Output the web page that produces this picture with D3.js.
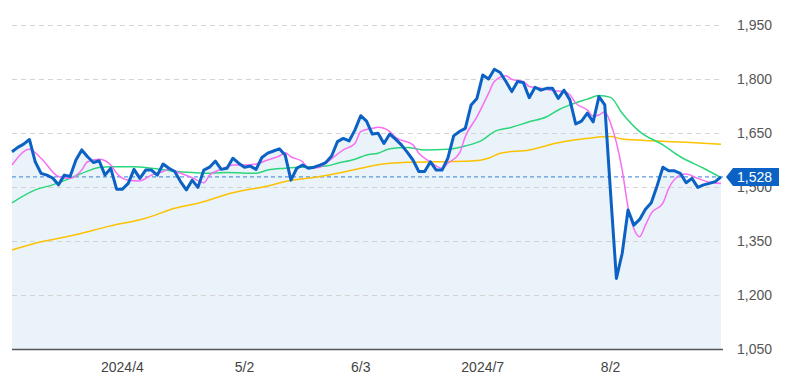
<!DOCTYPE html>
<html>
<head>
<meta charset="utf-8">
<script src="https://cdn.jsdelivr.net/npm/d3@7/dist/d3.min.js"></script>
<style>
  html, body { margin: 0; padding: 0; background: #fff; }
  svg { display: block; font-family: "Liberation Sans", Arial, sans-serif; }
</style>
</head>
<body>
<svg id="chart" width="802" height="391"></svg>
<script>
// ---- Data ----
const tickDays = [19, 40, 60, 81, 103];
const tickLabels = ["2024/4", "5/2", "6/3", "2024/7", "8/2"];
const yTicks = [1050, 1200, 1350, 1500, 1650, 1800, 1950];
const lastPrice = 1528;

const price = [
  1598, 1610, 1619, 1632, 1570, 1538, 1533, 1525, 1506, 1533,
  1529, 1575, 1603, 1584, 1568, 1573, 1533, 1552, 1494, 1494,
  1510, 1549, 1524, 1547, 1547, 1533, 1564, 1552, 1543, 1515,
  1492, 1519, 1499, 1547, 1555, 1572, 1549, 1552, 1580, 1566,
  1555, 1558, 1549, 1582, 1594, 1600, 1606, 1589, 1519, 1552,
  1561, 1552, 1555, 1561, 1568, 1586, 1626, 1635, 1628, 1658,
  1698, 1683, 1647, 1649, 1621, 1647, 1633, 1617, 1597, 1575,
  1543, 1543, 1570, 1547, 1547, 1580, 1642, 1654, 1663, 1728,
  1746, 1811, 1800, 1827, 1818, 1793, 1765, 1793, 1790, 1748,
  1777, 1769, 1774, 1774, 1746, 1769, 1742, 1675, 1683, 1705,
  1681, 1751, 1728, 1483, 1246, 1316, 1436, 1394, 1410, 1438,
  1456, 1503, 1555, 1545, 1545, 1538, 1512, 1524, 1499, 1506,
  1510, 1515, 1528
];

const ma5Days = [0, 3, 5, 8, 10, 12, 13, 15, 17, 18, 20, 22, 24, 26, 27, 29, 31, 33, 34, 36, 38, 40, 42, 44, 46, 47, 48, 50, 51, 53, 54, 57, 59, 60, 62, 63, 65, 66, 69, 70, 72, 74, 75, 77, 78, 80, 82, 83, 85, 86, 88, 89, 91, 93, 95, 96, 97, 99, 100, 101, 102, 103, 105, 106, 107, 108, 109, 110, 112, 113, 115, 116, 118, 120, 122];
const ma5Values = [1561, 1605, 1580, 1529, 1524, 1547, 1570, 1577, 1561, 1538, 1519, 1517, 1533, 1543, 1549, 1538, 1526, 1512, 1533, 1549, 1561, 1561, 1564, 1575, 1586, 1595, 1584, 1570, 1552, 1555, 1566, 1603, 1621, 1654, 1663, 1666, 1654, 1638, 1617, 1594, 1570, 1552, 1566, 1594, 1640, 1695, 1760, 1793, 1809, 1799, 1793, 1779, 1774, 1768, 1765, 1756, 1733, 1714, 1697, 1700, 1709, 1677, 1547, 1445, 1385, 1362, 1394, 1427, 1455, 1496, 1533, 1536, 1524, 1513, 1510];

const ma25Days = [0, 4, 7, 10, 13, 15, 17, 21, 24, 28, 31, 33, 37, 42, 44, 47, 50, 54, 56, 59, 61, 63, 65, 68, 71, 75, 78, 81, 83, 86, 89, 92, 94, 96, 99, 101, 103, 105, 108, 112, 115, 119, 122];
const ma25Values = [1456, 1492, 1506, 1524, 1544, 1554, 1556, 1556, 1552, 1544, 1540, 1538, 1540, 1538, 1547, 1552, 1555, 1558, 1566, 1577, 1589, 1594, 1606, 1610, 1603, 1605, 1614, 1631, 1654, 1666, 1681, 1695, 1714, 1728, 1744, 1754, 1749, 1705, 1654, 1617, 1584, 1552, 1526];

const ma75Days = [0, 4, 10, 17, 23, 28, 32, 38, 44, 47, 53, 56, 60, 62, 65, 68, 73, 79, 82, 84, 89, 94, 97, 100, 103, 105, 111, 116, 122];
const ma75Values = [1325, 1344, 1364, 1392, 1413, 1441, 1455, 1484, 1503, 1515, 1529, 1538, 1552, 1559, 1566, 1569, 1570, 1572, 1580, 1594, 1603, 1623, 1631, 1637, 1640, 1633, 1628, 1624, 1619];

// ---- Chart ----
const svg = d3.select("#chart");
const plotLeft = 12, plotRight = 721, axisEnd = 723, plotTop = 25, plotBottom = 349;

const x = d3.scaleLinear().domain([0, price.length - 1]).range([plotLeft, plotRight]);
const y = d3.scaleLinear().domain([1050, 1950]).range([plotBottom, plotTop]);

const pts = price.map((v, i) => [i, v]);

// area fill
svg.append("path")
  .datum(pts)
  .attr("fill", "#eaf2fa")
  .attr("d", d3.area().x(d => x(d[0])).y0(y(1050)).y1(d => y(d[1])));

// grid lines
svg.append("g").selectAll("line")
  .data(yTicks.filter(t => t !== 1050))
  .join("line")
  .attr("x1", plotLeft).attr("x2", axisEnd)
  .attr("y1", d => Math.round(y(d)) + 0.5).attr("y2", d => Math.round(y(d)) + 0.5)
  .attr("stroke", "#d3d3d3")
  .attr("stroke-width", 1)
  .attr("stroke-dasharray", "5,4");

// y tick labels (right)
svg.append("g").selectAll("text")
  .data(yTicks)
  .join("text")
  .attr("x", 737)
  .attr("y", d => y(d))
  .attr("dy", "0.35em")
  .attr("font-size", 14)
  .attr("fill", "#555")
  .text(d => d3.format(",")(d));

// bottom axis line
svg.append("line")
  .attr("x1", plotLeft).attr("x2", axisEnd)
  .attr("y1", plotBottom + 0.5).attr("y2", plotBottom + 0.5)
  .attr("stroke", "#555").attr("stroke-width", 1.5);

// x tick labels
svg.append("g").selectAll("text")
  .data(tickDays)
  .join("text")
  .attr("x", d => x(d))
  .attr("y", 367)
  .attr("dy", "0.35em")
  .attr("text-anchor", "middle")
  .attr("font-size", 14)
  .attr("fill", "#444")
  .text((d, i) => tickLabels[i]);

// current price dashed line
svg.append("line")
  .attr("x1", plotLeft).attr("x2", axisEnd)
  .attr("y1", y(lastPrice)).attr("y2", y(lastPrice))
  .attr("stroke", "#5b9be0").attr("stroke-width", 1.2)
  .attr("stroke-dasharray", "4,3");

function maLine(days, vals, color) {
  svg.append("path")
    .datum(days.map((d, i) => [d, vals[i]]))
    .attr("fill", "none")
    .attr("stroke", color)
    .attr("stroke-width", 1.5)
    .attr("d", d3.line().x(d => x(d[0])).y(d => y(d[1])).curve(d3.curveMonotoneX));
}
maLine(ma75Days, ma75Values, "#fcc200");
maLine(ma25Days, ma25Values, "#2bd67b");
maLine(ma5Days, ma5Values, "#f66ff3");

// price line
svg.append("path")
  .datum(pts)
  .attr("fill", "none")
  .attr("stroke", "#0b62c4")
  .attr("stroke-width", 3)
  .attr("stroke-linejoin", "round")
  .attr("d", d3.line().x(d => x(d[0])).y(d => y(d[1])));

// price label
const py = y(lastPrice);
svg.append("path")
  .attr("fill", "#0b62c4")
  .attr("d", `M726,${py} L733,${py - 9} L779,${py - 9} L779,${py + 9} L733,${py + 9} Z`);
svg.append("text")
  .attr("x", 737).attr("y", py)
  .attr("dy", "0.36em")
  .attr("font-size", 14)
  .attr("fill", "#fff")
  .text(d3.format(",")(lastPrice));
</script>
</body>
</html>
